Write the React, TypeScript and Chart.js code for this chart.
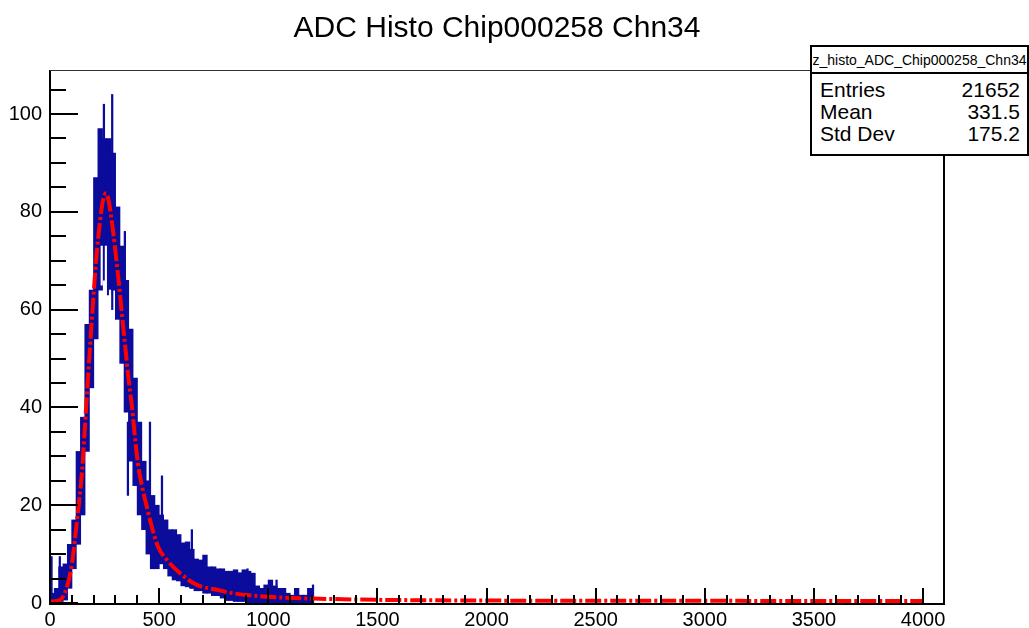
import React, { useEffect, useRef } from "react";
import { Chart, registerables } from "chart.js";

Chart.register(...registerables);

// ---- data ----
const titleText = "ADC Histo Chip000258 Chn34";
const statsName = "z_histo_ADC_Chip000258_Chn34";
const statsLabels = ["Entries", "Mean", "Std Dev"];
const statsValues = ["21652", "331.5", "175.2"];

// histogram envelope (error-bar band), in 20-ADC columns
const binCenters = [
  10, 30, 50, 70, 90, 110, 130, 150, 170, 190, 210, 230, 250, 270, 290, 310, 330, 350, 370, 390,
  410, 430, 450, 470, 490, 510, 530, 550, 570, 590, 610, 630, 650, 670, 690, 710, 730, 750, 770, 790,
  810, 830, 850, 870, 890, 910, 930, 950, 970, 990, 1010, 1030, 1050, 1070, 1090, 1110, 1130, 1150, 1170, 1190,
];
const binLow = [
  0, 0, 0.3, 0.6, 3, 7, 12, 18, 31, 44, 54, 64, 66, 63, 64, 58, 49, 39, 29, 24,
  18, 15, 10, 7, 7, 8, 7, 5.5, 4.7, 4.5, 3.5, 3.3, 3, 2.5, 2.5, 2, 2, 1.5, 1.5, 1,
  0.5, 0.5, 0.3, 0.3, 0.3, 0, 0, 0, 0, 0, 0, 0, 0, 0, 0, 0, 0, 0, 0, 0,
];
const binHigh = [
  2, 3, 7.4, 8, 12, 17, 31, 38, 57, 64, 87, 97, 95, 95, 92, 81, 73, 66, 56, 46,
  37, 29, 25, 22, 20, 18, 17, 15, 15, 14, 12.3, 12.5, 11, 9, 8.8, 9.8, 7.4, 7.4, 7, 7,
  6.5, 6.5, 6.8, 6.2, 6.8, 6.5, 6.1, 3.5, 3, 3.7, 4.7, 3.5, 3, 3, 2, 1.6, 3, 1.6, 1.6, 3,
];

// single outlying error bars
const spikeX = [7, 45, 247, 285, 343, 357, 458, 513, 650, 905, 1038, 1205];
const spikeLow = [0, 6, 70, 60, 62, 22, 22, 13, 3, 0, 0, 0];
const spikeHigh = [9.5, 9.5, 102, 104, 76, 37, 37, 26, 15, 7, 4.7, 3.7];

// empty gaps inside the peak
const gapX = [237, 256, 275];
const gapLow = [65, 57, 57];
const gapHigh = [73, 73, 64];

// fitted curve
const fitX = [
  0, 14, 46, 78, 101, 124, 147, 160, 174, 192, 206, 215, 229, 243, 257, 270, 289, 307, 321, 334,
  348, 357, 376, 389, 403, 421, 444, 467, 495, 536, 596, 673, 765, 838, 962, 1067, 1205, 1500, 2000, 2500,
  3000, 3500, 4000,
];
const fitY = [
  0.3, 0.3, 0.6, 3.3, 8.2, 17, 27, 36, 46, 58, 67, 72, 78, 82.4, 83.8, 82, 76, 69, 63, 57,
  51, 47, 40, 34, 28.5, 24, 19.6, 15.5, 11.5, 8.8, 6.1, 3.7, 2.7, 2, 1.4, 1.1, 0.9, 0.65, 0.5, 0.45,
  0.45, 0.4, 0.4,
];

const xTickValues = [0, 500, 1000, 1500, 2000, 2500, 3000, 3500, 4000];
const yTickValues = [0, 20, 40, 60, 80, 100];
const xMin = 0;
const xMax = 4096;
const yMin = 0;
const yMax = 109;

const FONT = "'Liberation Sans', Arial, Helvetica, sans-serif";
const BLUE = "#0b0b9c";
const RED = "#ff0000";

const frameTicks = {
  id: "frameTicks",
  afterDatasetsDraw(chart: any) {
    const { ctx, chartArea: a, scales } = chart;
    const x = scales.x;
    const y = scales.y;
    ctx.save();
    ctx.strokeStyle = "#000";
    ctx.lineWidth = 2;
    ctx.beginPath();
    for (let v = yMin; v <= yMax; v += 5) {
      const p = Math.round(y.getPixelForValue(v));
      const len = v % 20 === 0 ? 28 : 16;
      ctx.moveTo(a.left, p);
      ctx.lineTo(a.left + len, p);
    }
    for (let v = 0; v <= xMax; v += 100) {
      const p = Math.round(x.getPixelForValue(v));
      const len = v % 500 === 0 ? 15 : 8;
      ctx.moveTo(p, a.bottom + 1);
      ctx.lineTo(p, a.bottom - len);
    }
    ctx.stroke();
    // axes
    ctx.beginPath();
    ctx.moveTo(a.left, a.top);
    ctx.lineTo(a.left, a.bottom + 1);
    ctx.lineTo(a.right, a.bottom + 1);
    ctx.lineTo(a.right, a.top);
    ctx.stroke();
    ctx.lineWidth = 1;
    ctx.strokeStyle = "#333";
    ctx.beginPath();
    ctx.moveTo(a.left, a.top + 0.5);
    ctx.lineTo(a.right, a.top + 0.5);
    ctx.stroke();
    ctx.restore();
  },
};

export default function App() {
  const ref = useRef<HTMLCanvasElement | null>(null);

  useEffect(() => {
    if (!ref.current) return;
    const chart = new Chart(ref.current, {
      type: "bar",
      data: {
        datasets: [
          {
            type: "line",
            label: "fit",
            data: fitX.map((v, i) => ({ x: v, y: fitY[i] })),
            borderColor: RED,
            borderWidth: 4,
            borderDash: [16, 3, 3, 3],
            pointRadius: 0,
            cubicInterpolationMode: "monotone",
            fill: false,
            order: 0,
          } as any,
          {
            label: "gaps",
            data: gapX.map((v, i) => ({ x: v, y: [gapLow[i], gapHigh[i]] })),
            backgroundColor: "#ffffff",
            barThickness: 1.5,
            grouped: false,
            order: 1,
          } as any,
          {
            label: "spikes",
            data: spikeX.map((v, i) => ({ x: v, y: [spikeLow[i], spikeHigh[i]] })),
            backgroundColor: BLUE,
            barThickness: 1.6,
            grouped: false,
            order: 2,
          } as any,
          {
            label: "histo",
            data: binCenters.map((v, i) => ({ x: v, y: [binLow[i], binHigh[i]] })),
            backgroundColor: BLUE,
            barThickness: 4.7,
            grouped: false,
            order: 3,
          } as any,
        ],
      },
      options: {
        responsive: false,
        animation: false,
        devicePixelRatio: 1,
        layout: { padding: { top: 70, right: 85, left: 0, bottom: 0 } },
        plugins: {
          legend: { display: false },
          tooltip: { enabled: false },
          title: { display: false },
        },
        scales: {
          x: {
            type: "linear",
            position: "bottom",
            offset: false,
            min: xMin,
            max: xMax,
            grid: { display: false, drawTicks: false, offset: false },
            border: { display: false },
            ticks: {
              color: "#000",
              font: { family: FONT, size: 20 },
              padding: 5,
              maxRotation: 0,
              autoSkip: false,
              includeBounds: false,
              callback: (v: any) => String(v),
            },
            afterBuildTicks: (s: any) => {
              s.ticks = xTickValues.map((v) => ({ value: v }));
            },
            afterFit: (s: any) => {
              s.height = 25;
            },
          },
          y: {
            type: "linear",
            position: "left",
            min: yMin,
            max: yMax,
            grid: { display: false, drawTicks: false },
            border: { display: false },
            ticks: {
              color: "#000",
              font: { family: FONT, size: 20 },
              padding: 8,
              autoSkip: false,
              includeBounds: false,
              callback: (v: any) => String(v),
            },
            afterBuildTicks: (s: any) => {
              s.ticks = yTickValues.map((v) => ({ value: v }));
            },
            afterFit: (s: any) => {
              s.width = 50;
            },
          },
        },
      } as any,
      plugins: [frameTicks],
    });
    return () => chart.destroy();
  }, []);

  const rowTops = [32, 54, 76];

  return (
    <div
      style={{
        position: "absolute",
        left: 0,
        top: 0,
        width: 1029,
        height: 628,
        background: "#fff",
        overflow: "hidden",
        fontFamily: FONT,
        color: "#000",
      }}
    >
      <canvas ref={ref} width={1029} height={628} style={{ position: "absolute", left: 0, top: 0 }} />
      <div
        style={{
          position: "absolute",
          left: 50,
          width: 894,
          top: 12,
          fontSize: 30,
          lineHeight: "30px",
          textAlign: "center",
          whiteSpace: "nowrap",
        }}
      >
        {titleText}
      </div>
      <div
        style={{
          position: "absolute",
          left: 810,
          top: 45,
          width: 219,
          height: 111,
          boxSizing: "border-box",
          border: "2px solid #000",
          background: "#fff",
        }}
      >
        <div
          style={{
            position: "absolute",
            left: 0,
            right: 0,
            top: 0,
            height: 25,
            borderBottom: "2px solid #000",
            overflow: "hidden",
            display: "flex",
            justifyContent: "center",
            alignItems: "center",
            fontSize: 14,
            whiteSpace: "nowrap",
          }}
        >
          <span style={{ flexShrink: 0 }}>{statsName}</span>
        </div>
        {statsLabels.map((lab, i) => (
          <React.Fragment key={lab}>
            <div
              style={{
                position: "absolute",
                left: 8,
                top: rowTops[i],
                fontSize: 21,
                lineHeight: "22px",
                whiteSpace: "nowrap",
              }}
            >
              {lab}
            </div>
            <div
              style={{
                position: "absolute",
                right: 7,
                top: rowTops[i],
                fontSize: 21,
                lineHeight: "22px",
                whiteSpace: "nowrap",
              }}
            >
              {statsValues[i]}
            </div>
          </React.Fragment>
        ))}
      </div>
    </div>
  );
}
